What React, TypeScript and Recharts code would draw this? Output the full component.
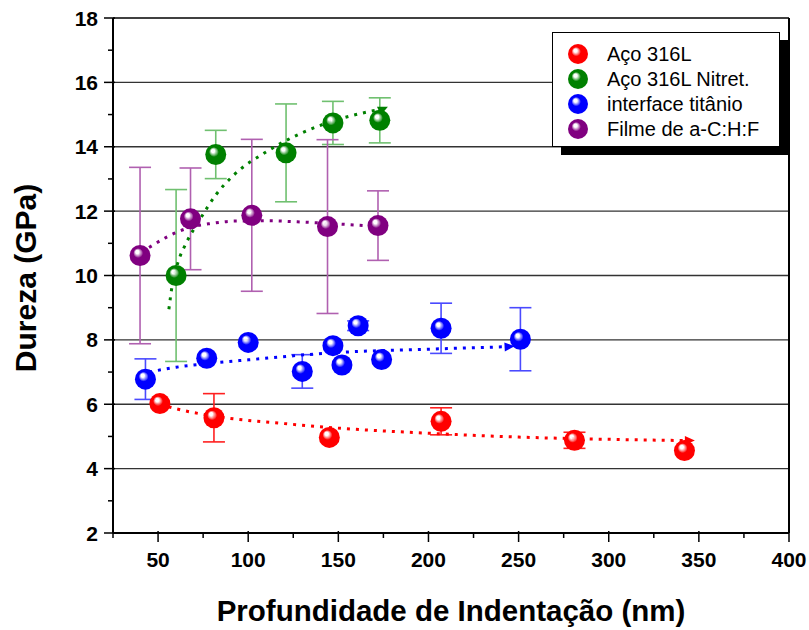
import React from 'react';
import {
  ComposedChart,
  Scatter,
  Line,
  XAxis,
  YAxis,
  CartesianGrid,
  ErrorBar,
  ReferenceLine,
} from 'recharts';

// medidas de dureza (GPa) x profundidade (nm)
const redX = [51, 81, 145, 207, 281, 342];
const redY = [6.02, 5.58, 4.97, 5.47, 4.88, 4.56];
const redErr = [0, 0.75, 0, 0.42, 0.25, 0];

const greenX = [60, 82, 121, 147, 173];
const greenY = [10.0, 13.76, 13.81, 14.74, 14.82];
const greenErr = [2.67, 0.75, 1.52, 0.67, 0.7];

const blueX = [43, 77, 100, 130, 147, 152, 161, 174, 207, 251];
const blueY = [6.78, 7.43, 7.92, 7.02, 7.82, 7.22, 8.44, 7.39, 8.36, 8.02];
const blueErr = [0.63, 0, 0, 0.52, 0, 0, 0.15, 0, 0.78, 0.98];

const purpleX = [40, 68, 102, 144, 172];
const purpleY = [10.62, 11.76, 11.87, 11.52, 11.55];
const purpleErr = [2.74, 1.58, 2.36, 2.7, 1.08];

// curvas de ajuste
const redFitX = [51, 60, 85, 120, 147, 200, 250, 300, 345];
const redFitY = [6.0, 5.86, 5.6, 5.4, 5.27, 5.1, 4.98, 4.91, 4.87];

const greenFitX = [56, 58, 61, 66, 73, 82, 92, 110, 129, 147, 166, 175];
const greenFitY = [8.95, 9.75, 10.4, 11.05, 11.72, 12.5, 13.12, 13.84, 14.41, 14.8, 15.08, 15.18];

const blueFitX = [45, 60, 82, 100, 147, 200, 245];
const blueFitY = [7.0, 7.15, 7.29, 7.38, 7.6, 7.71, 7.79];

const purpleFitX = [45, 55, 68, 80, 92, 110, 130, 144, 170];
const purpleFitY = [10.87, 11.2, 11.5, 11.62, 11.69, 11.7, 11.66, 11.62, 11.53];

const xTicks = [25, 50, 75, 100, 125, 150, 175, 200, 225, 250, 275, 300, 325, 350, 375, 400];
const yTicks = [2, 3, 4, 5, 6, 7, 8, 9, 10, 11, 12, 13, 14, 15, 16, 17, 18];
const gridValues = [4, 6, 8, 10, 12, 14, 16];

const seriesNames = ['Aço 316L', 'Aço 316L Nitret.', 'interface titânio', 'Filme de a-C:H:F'];
const seriesColors = ['#ff0000', '#008000', '#0000ff', '#800080'];
const errColors = ['#ff2020', '#70c070', '#4a4aff', '#b060b0'];

const FONT = '"Liberation Sans", Arial, Helvetica, sans-serif';

const toPoints = (xs: number[], ys: number[], errs?: number[]) =>
  xs.map((x, i) => ({ x, y: ys[i], err: errs ? errs[i] : 0 }));

const Gradients = () => (
  <svg width={0} height={0} style={{ position: 'absolute' }}>
    <defs>
      {seriesColors.map((c, i) => (
        <radialGradient key={i} id={`sph${i}`} cx="50%" cy="50%" r="55%" fx="35%" fy="30%">
          <stop offset="0%" stopColor="#ffffff" />
          <stop offset="15%" stopColor="#ffffff" stopOpacity={0.85} />
          <stop offset="42%" stopColor={c} />
          <stop offset="100%" stopColor={c} />
        </radialGradient>
      ))}
    </defs>
  </svg>
);

const Sphere = ({ cx, cy, idx, r = 10.5 }: any) => {
  if (cx == null || cy == null) return null;
  return <circle cx={cx} cy={cy} r={r} fill={`url(#sph${idx})`} />;
};

const NoShape = () => <g />;

const arrowDot = (last: number, color: string, angle: number) => (props: any) => {
  const { cx, cy, index } = props;
  if (index !== last || cx == null) return <g key={index} />;
  return (
    <path
      key={index}
      d={`M${cx + 5},${cy} L${cx - 5},${cy - 4.5} L${cx - 5},${cy + 4.5} Z`}
      fill={color}
      transform={`rotate(${angle} ${cx} ${cy})`}
    />
  );
};

const YTick = ({ x, y, payload }: any) => {
  const major = payload.value % 2 === 0;
  return (
    <g>
      <line x1={x - (major ? 9 : 5)} x2={x + (major ? 2 : 0)} y1={y} y2={y} stroke="#000" strokeWidth={1.5} />
      {major && (
        <text x={x - 15} y={y} textAnchor="end" dominantBaseline="central" fontFamily={FONT} fontWeight="bold" fontSize={21} fill="#000">
          {payload.value}
        </text>
      )}
    </g>
  );
};

const XTick = ({ x, y, payload }: any) => {
  const major = payload.value % 50 === 0;
  return (
    <g>
      <line x1={x} x2={x} y1={y - (major ? 2 : 0)} y2={y + (major ? 9 : 5)} stroke="#000" strokeWidth={1.5} />
      {major && (
        <text x={x} y={y + 26} textAnchor="middle" dominantBaseline="central" fontFamily={FONT} fontWeight="bold" fontSize={21} fill="#000">
          {payload.value}
        </text>
      )}
    </g>
  );
};

const groups = [
  { pts: toPoints(redX, redY, redErr), fit: toPoints(redFitX, redFitY), arrow: 0 },
  { pts: toPoints(greenX, greenY, greenErr), fit: toPoints(greenFitX, greenFitY), arrow: -25 },
  { pts: toPoints(blueX, blueY, blueErr), fit: toPoints(blueFitX, blueFitY), arrow: -3 },
  { pts: toPoints(purpleX, purpleY, purpleErr), fit: toPoints(purpleFitX, purpleFitY), arrow: null },
];

const LegendBox = () => (
  <div
    style={{
      position: 'absolute',
      left: 552,
      top: 32,
      width: 226,
      height: 113,
      border: '1px solid #000',
      background: '#fff',
      boxShadow: '9px 8px 0 #000',
      fontFamily: FONT,
      fontSize: 20,
    }}
  >
    {seriesNames.map((name, i) => (
      <div key={name} style={{ position: 'absolute', left: 0, top: 9 + i * 25, height: 24, display: 'flex', alignItems: 'center' }}>
        <svg width={24} height={24} style={{ marginLeft: 13 }}>
          <circle cx={12} cy={12} r={10} fill={`url(#sph${i})`} />
        </svg>
        <span style={{ marginLeft: 17, whiteSpace: 'nowrap', color: '#000' }}>{name}</span>
      </div>
    ))}
  </div>
);

export default function App() {
  return (
    <div style={{ position: 'relative', width: 809, height: 630, background: '#fff' }}>
      <style>{'body{margin:0}'}</style>
      <Gradients />
      <ComposedChart width={809} height={630} margin={{ top: 18, right: 20, left: 0, bottom: 0 }}>
        <CartesianGrid vertical={false} horizontalValues={gridValues} stroke="#333" strokeWidth={1.3} />
        <XAxis
          type="number"
          dataKey="x"
          domain={[25, 400]}
          ticks={xTicks}
          interval={0}
          tick={<XTick />}
          tickSize={0}
          tickMargin={0}
          tickLine={false}
          height={97}
          axisLine={{ stroke: '#000', strokeWidth: 2 }}
          allowDataOverflow
          label={{
            content: () => (
              <text x={451} y={621} textAnchor="middle" fontFamily={FONT} fontWeight="bold" fontSize={29.5} fill="#000">
                Profundidade de Indentação (nm)
              </text>
            ),
          }}
        />
        <YAxis
          type="number"
          dataKey="y"
          domain={[2, 18]}
          ticks={yTicks}
          interval={0}
          tick={<YTick />}
          tickSize={0}
          tickMargin={0}
          tickLine={false}
          width={113}
          axisLine={{ stroke: '#000', strokeWidth: 2 }}
          allowDataOverflow
          label={{
            content: () => (
              <text x={36} y={278} transform="rotate(-90 36 278)" textAnchor="middle" fontFamily={FONT} fontWeight="bold" fontSize={30} fill="#000">
                Dureza (GPa)
              </text>
            ),
          }}
        />
        <ReferenceLine y={18} stroke="#000" strokeWidth={1.5} />
        <ReferenceLine x={400} stroke="#000" strokeWidth={2} />
        {groups.map((g, i) => (
          <Scatter
            key={`err${i}`}
            data={g.pts}
            fill={errColors[i]}
            shape={<NoShape />}
            isAnimationActive={false}
          >
            <ErrorBar dataKey="err" direction="y" width={11} stroke={errColors[i]} strokeWidth={1.6} />
          </Scatter>
        ))}
        {groups.map((g, i) => (
          <Line
            key={`fit${i}`}
            data={g.fit}
            dataKey="y"
            type="monotone"
            stroke={seriesColors[i]}
            strokeWidth={3}
            strokeDasharray="3 6"
            dot={g.arrow === null ? false : arrowDot(g.fit.length - 1, seriesColors[i], g.arrow)}
            activeDot={false}
            isAnimationActive={false}
          />
        ))}
        {groups.map((g, i) => (
          <Scatter
            key={`pts${i}`}
            name={seriesNames[i]}
            data={g.pts}
            fill={seriesColors[i]}
            shape={(p: any) => <Sphere {...p} idx={i} />}
            isAnimationActive={false}
          />
        ))}
      </ComposedChart>
      <LegendBox />
    </div>
  );
}
